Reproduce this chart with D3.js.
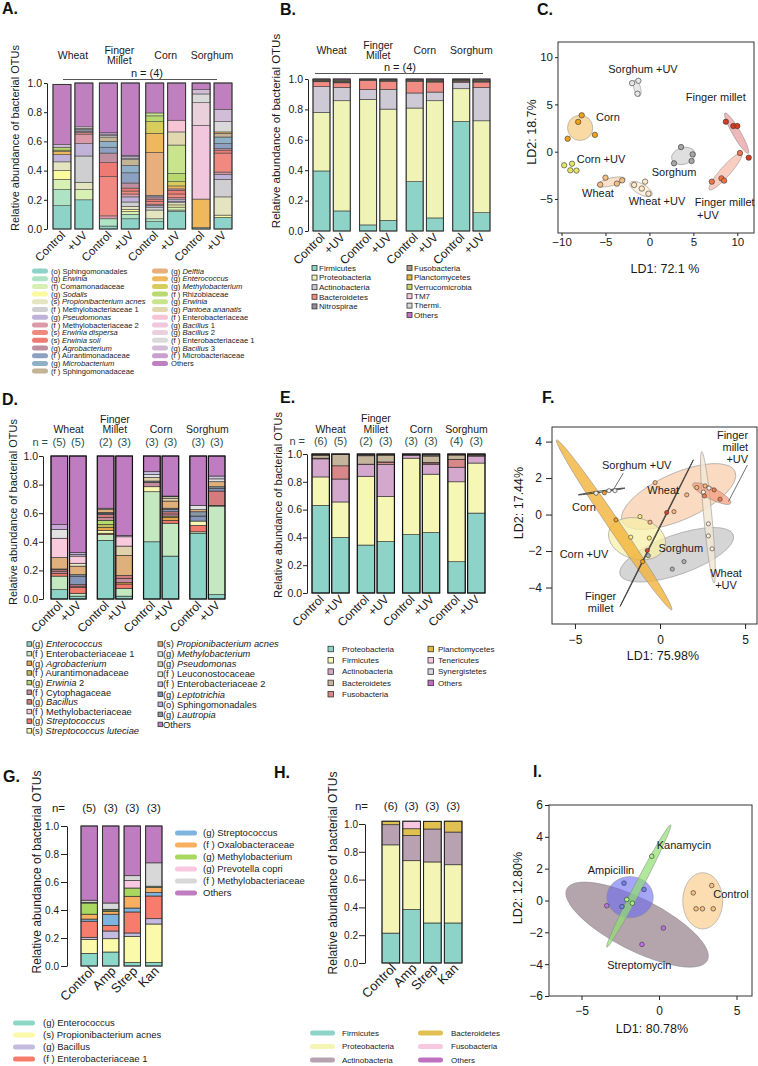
<!DOCTYPE html>
<html><head><meta charset="utf-8">
<script src="https://cdn.jsdelivr.net/npm/d3@7"></script>
<style>body{margin:0;background:#fff}svg{display:block}</style>
</head><body><svg id="c" width="758" height="1066"></svg>
<script>
const FONT = '"Liberation Sans", Arial, Helvetica, sans-serif';

// ================= DATA =================
const plantGroups = ["Wheat", "Finger\nMillet", "Corn", "Sorghum"];
const uvConds = ["Control", "+UV"];
const abxGroups = ["Control", "Amp", "Strep", "Kan"];

// ---- Panel A (taxa, bottom-to-top in legend order) ----
const taxaA = ["(o) Sphingomonadales","(g) *Erwinia*","(f) Comamonadaceae","(g) *Sodalis*","(s) *Propionibacterium acnes*","(f ) Methylobacteriaceae 1","(g) *Pseudomonas*","(f ) Methylobacteriaceae 2","(s) *Erwinia dispersa*","(s) *Erwinia soli*","(g) *Agrobacterium*","(f ) Aurantimonadaceae","(g) *Microbacterium*","(f ) Sphingomonadaceae",
"(g) *Delftia*","(g) *Enterococcus*","(g) *Methylobacterium*","(f ) Rhizobiaceae","(g) *Erwinia*","(g) *Pantoea ananatis*","(f ) Enterobacteriaceae","(g) *Bacillus* 1","(g) *Bacillus* 2","(f ) Enterobacteriaceae 1","(g) *Bacillus* 3","(f ) Microbacteriaceae","Others"];
const colorsA = ["#8dd3c7","#aee3c4","#d9f0b4","#fafa9e","#e4e4c0","#cfcfd2","#bfb3d9","#dc9aa8","#f08a80","#ee7b73","#c08f9f","#8ea0c0","#8fb0c6","#c2b494","#e8ae7c","#f0b85c","#d8cc5c","#b8d870","#c8e48c","#e2d8b0","#f7c4d6","#f2c6dc","#ead0da","#d9d9d9","#d2bcd8","#c9a0d0","#c080c0"];
const barsA = [
 [.16,.11,.07,.06,.06,0,.05,0,0,0,0,0,0,0,0,.02,.01,.02,0,0,0,0,0,0,.02,0,.41],
 [.20,0,.07,0,.05,.18,.085,.065,.01,0,.01,.01,0,.01,0,0,0,0,0,0,0,0,0,.01,0,0,.30],
 [.02,.05,0,0,0,0,0,.02,.27,.095,.065,.04,.04,.03,0,0,0,0,0,0,0,0,0,.01,.01,.01,.34],
 [.07,.03,.02,.015,.02,.03,.035,.02,.02,.02,.035,.07,.05,.04,0,0,0,0,0,0,0,0,0,.01,.01,.01,.495],
 [.05,.02,0,0,.06,.02,.01,.01,.02,.015,.015,.01,0,0,.295,.13,.08,.04,.02,0,0,0,0,0,0,0,.205],
 [.12,.01,.02,.015,.015,.01,.015,.01,.025,.025,.01,0,0,0,0,.02,.03,.055,.195,.09,.08,0,0,0,0,0,.255],
 [.01,0,0,0,0,0,0,0,0,0,0,0,0,0,0,.195,0,0,0,0,0,.505,.155,.06,.03,0,.045],
 [.08,0,0,.015,.125,.12,.035,.015,.13,.02,.01,.035,.045,.025,0,.01,0,0,0,0,0,0,0,.07,.085,0,.18]
];

// ---- Panel B (phyla) ----
const phylaB = ["Firmicutes","Proteobacteria","Actinobacteria","Bacteroidetes","Nitrospirae","Fusobacteria","Planctomycetes","Verrucomicrobia","TM7","Thermi.","Others"];
const colorsB = ["#8dd3c7","#eff3b5","#cdcad6","#f08c84","#9a8aa0","#a89888","#e8b838","#c8d870","#f8c8d8","#d8d8d8","#c070c0"];
const barsB = [
 [.395,.385,.17,.032,.005,.004,.003,.002,0,0,.004],
 [.132,.725,.088,.03,.005,.005,.005,.003,0,0,.007],
 [.04,.826,.065,.06,.003,.002,.001,.001,0,0,.002],
 [.07,.732,.13,.053,.004,.003,.002,.001,0,0,.005],
 [.325,.484,.099,.077,.004,.004,.002,.001,0,0,.004],
 [.086,.771,.057,.066,.005,.004,.003,.002,0,0,.006],
 [.721,.215,.04,.009,.004,.003,.002,.001,0,0,.005],
 [.121,.604,.22,.035,.005,.004,.003,.002,0,0,.006]
];

// ---- Panel D ----
const taxaD = ["(g) *Enterococcus*","(f ) Enterobacteriaceae 1","(g) *Agrobacterium*","(f ) Aurantimonadaceae","(g) *Erwinia* 2","(f ) Cytophagaceae","(g) *Bacillus*","(f ) Methylobacteriaceae","(g) *Streptococcus*","(s) *Streptococcus luteciae*",
"(s) *Propionibacterium acnes*","(g) *Methylobacterium*","(g) *Pseudomonas*","(f ) Leuconostocaceae","(f ) Enterobacteriaceae 2","(g) *Leptotrichia*","(o) Sphingomonadales","(g) *Lautropia*","Others"];
const colorsD = ["#8dd3c7","#c4e8bf","#e8a448","#c4bc58","#b4dc68","#c48c9c","#d47c7c","#f8cadc","#f27a6a","#f8f8b2","#e0b07c","#e2e2e2","#e2d2ac","#ececcc","#cac4e2","#8494b8","#c8a8d8","#8898a4","#c07cc0"];
const stackOrderD = [0,1,8,9,2,3,4,5,6,15,17,10,12,13,7,11,14,16,18];
const barsD = [
 [.065,.095,0,0,0,.015,.01,.135,.02,0,.08,.06,0,0,0,0,.035,.005,.48],
 [.02,.02,0,0,0,.01,.01,.05,.04,0,.06,0,0,.02,.01,.06,.015,.01,.675],
 [.41,.04,.02,.02,.03,.02,.02,0,.01,.02,.02,0,.01,0,0,.01,0,.005,.365],
 [.02,.055,.01,0,0,.03,.02,.065,.03,0,.14,0,.065,0,.01,0,0,0,.555],
 [.40,.35,0,0,0,.03,0,0,0,.035,0,.02,.025,0,.02,0,0,.01,.11],
 [.30,.23,.02,.01,0,.015,.015,.005,.02,0,.05,0,.02,.01,0,.015,0,.01,.28],
 [.46,.01,0,0,0,0,0,0,.045,.03,.015,.03,0,0,0,.035,0,.03,.345],
 [.03,.62,0,0,0,.005,.10,0,0,0,.035,.02,0,0,.02,.02,0,.01,.14]
];
const nD = ["(5)","(5)","(2)","(3)","(3)","(3)","(3)","(3)"];

// ---- Panel E ----
const phylaE = ["Proteobacteria","Firmicutes","Actinobacteria","Bacteroidetes","Fusobacteria","Planctomycetes","Tenericutes","Synergistetes","Others"];
const colorsE = ["#8dd3c7","#f7f7b5","#d4a8cc","#c4b49c","#d88888","#e0b840","#f8c8dc","#d8d4e0","#c070c0"];
const stackOrderE = [0,1,2,4,6,3,5,7,8];
const barsE = [
 [.63,.205,.13,.02,.005,.003,0,.002,.005],
 [.40,.255,.165,.08,.095,.002,0,.001,.002],
 [.345,.495,.085,.06,.002,.005,0,.003,.005],
 [.37,.325,.23,.045,.015,.005,.003,.002,.005],
 [.42,.55,.02,.004,.001,.002,0,.001,.002],
 [.435,.42,.07,.045,.01,.005,.005,.005,.005],
 [.225,.575,.105,.03,.055,.003,.002,.002,.003],
 [.575,.36,.05,.004,.002,.003,.001,.002,.003]
];
const nE = ["(6)","(5)","(2)","(3)","(3)","(3)","(4)","(3)"];

// ---- Panel G ----
const taxaG = ["(g) Enterococcus","(s) Propionibacterium acnes","(g) Bacillus","(f ) Enterobacteriaceae 1","(g) Streptococcus","(f ) Oxalobacteraceae","(g) Methylobacterium","(g) Prevotella copri","(f ) Methylobacteriaceae","Others"];
const colorsG = ["#8cd8c8","#fafaaa","#c4bce0","#f87c6c","#80b4e0","#f8b060","#a8d860","#f8c8e0","#d8d8d8","#c07cc0"];
const barsG = [
 [.09,.10,.015,.115,.015,.035,.08,.005,.015,.53],
 [.10,.095,.055,.04,.08,.02,.01,.005,.045,.55],
 [.025,.187,.024,.15,.028,.084,.059,.053,.035,.355],
 [.025,.275,.038,.162,.024,.036,.01,0,.167,.263]
];
const nG = ["(5)","(3)","(3)","(3)"];

// ---- Panel H ----
const phylaH = ["Firmicutes","Proteobacteria","Actinobacteria","Bacteroidetes","Fusobacteria","Others"];
const colorsH = ["#8dd3c7","#f4f4b4","#b8a2b2","#e0c050","#f8c8e0","#c070c0"];
const barsH = [
 [.215,.635,.145,.025,0,0],
 [.384,.352,.182,.048,.054,0],
 [.288,.439,.237,.055,0,0],
 [.288,.419,.235,.078,0,0]
];
const nH = ["(6)","(3)","(3)","(3)"];

// ---- Panel C (LDA) ----
const cGroups = ["Corn","Corn +UV","Wheat","Wheat +UV","Sorghum +UV","Sorghum","Finger millet","Finger millet +UV"];
const cPoints = [
 [[-7.7,3.85],[-8.1,3.15],[-9.3,1.37],[-6.2,1.78]],
 [[-9.7,-1.44],[-8.8,-1.27],[-9.0,-1.97],[-8.3,-2.0]],
 [[-5.0,-2.75],[-5.6,-3.49],[-3.7,-3.38],[-3.1,-3.03]],
 [[-1.74,-3.52],[-0.49,-3.17],[-0.87,-3.9],[-0.11,-4.44]],
 [[-1.97,7.25],[-1.25,7.5],[-1.36,6.13]],
 [[3.6,0.49],[4.92,-0.28],[2.8,-1.23],[4.8,-0.99]],
 [[8.7,3.17],[9.55,2.71],[10.0,2.71],[11.3,-0.63]],
 [[7.1,-3.17],[8.2,-2.82],[8.5,-3.06],[10.3,-0.14]]
];
const cEllipses = [
 [-9.32,2.52,-6.44,2.52,1.44], null,
 [-5.95,-3.55,-2.75,-2.85,0.45], [-2.2,-3.3,0.3,-4.6,0.6],
 [-1.63,7.59,-1.14,5.84,0.38], [2.54,-0.8,5.19,-0.1,0.95],
 [8.6,4.09,11.25,-0.17,0.45], [6.82,-4.02,10.49,-0.17,0.57]
];
const cEllFill = ["#f8d495",null,"#fbd9bd","#fdf0de","#e6e6e6","#dcdcdc","#e79a9a","#f6b9a6"];
const cEllOp = [.85,0,.8,.9,.9,.9,.7,.7];
const cPtFill = ["#f0a21a","#e4e46a","#f6bf82","#fde9c8","#e6e6e6","#a6a6a6","#d63b22","#ef7446"];
const cLabels = [
 ["Sorghum +UV",-0.73,8.3,"middle"],["Finger millet",7.55,5.36,"middle"],["Corn",-6.07,3.24,"start"],
 ["Corn +UV",-8.27,-1.2,"start"],["Wheat",-5.85,-4.79,"middle"],["Wheat +UV",0.86,-5.64,"middle"],
 ["Sorghum",2.8,-2.57,"middle"],["Finger millet",8.57,-5.74,"middle"],["+UV",5.42,-7.17,"start"]
];

// ---- Panel F (LDA) ----
const fGroups = ["Wheat","Sorghum","Corn +UV","Corn","Wheat +UV","Finger millet +UV","Sorghum +UV","Finger millet"];
const fPoints = [
 [[-0.29,1.75],[-0.59,-0.42],[0.82,0.16],[1.57,1.08],[2.16,1.48],[2.65,1.57]],
 [[-0.69,-2.25],[0.72,-2.99],[1.41,-2.58]],
 [[-1.18,-0.11],[-1.72,-1.24],[-0.63,-1.29]],
 [[-3.27,1.19],[-2.59,-0.29],[-1.02,-2.58]],
 [[2.88,1.45],[2.55,1.23],[2.84,-0.51],[2.84,-1.17],[3.06,-1.88]],
 [[2.61,1.02],[3.18,1.35],[3.53,0.84]],
 [[-3.76,1.17],[-3.0,1.31],[-2.65,1.31]],
 [[0.39,0.11],[-0.75,-1.97]]
];
const fEllipses = [
 [-2.22,-0.38,4.41,2.36,1.38], [-2.35,-3.30,4.31,-1.11,1.16], [-3.0,-0.9,0.3,-1.75,1.2],
 [-6.08,4.09,0.69,-5.22,0.35], [2.45,3.45,3.18,-3.76,0.24], [1.92,1.68,4.16,0.62,0.33],
 [-4.8,1.08,-2.06,1.45,0.04], [-2.35,-5.04,1.96,3.0,0.02]
];
const fEllFill = ["#f7c6a0","#b9b9b9","#f7efa8","#f2b33a","#f3e7d4","#f29a7a","none","none"];
const fEllOp = [.65,.6,.75,.8,.85,.7,0,0];
const fPtFill = ["#f8b880","#b0b0b0","#f8f080","#f0a020","#fdf0e0","#f08050","#f0f0f0","#d84028"];
const fLabels = [
 ["Sorghum +UV",-1.37,2.5,"middle"],["Wheat",0.19,1.13,"middle"],["Corn",-4.47,0.2,"middle"],
 ["Corn +UV",-4.47,-2.37,"middle"],["Sorghum",1.22,-2.04,"middle"],
 ["Finger",5.18,4.15,"end"],["millet",5.18,3.49,"end"],["+UV",5.18,2.83,"end"],
 ["Wheat",3.88,-3.41,"middle"],["+UV",3.88,-4.07,"middle"],
 ["Finger",-3.49,-4.67,"middle"],["millet",-3.49,-5.33,"middle"]
];
const fLeaders = [[-2.16,2.27,-2.75,1.35],[5.14,2.72,4.02,0.71]];

// ---- Panel I (LDA) ----
const iGroups = ["Streptomycin","Ampicillin","Kanamycin","Control"];
const iPoints = [
 [[-3.37,-0.33],[0.28,-1.73],[-1.1,-2.76]],
 [[-2.26,1.09],[-0.97,0.69],[-2.39,-0.38]],
 [[-0.47,2.78],[-2.08,0.06],[-1.72,-0.17]],
 [[2.21,0.48],[3.4,0.94],[2.39,-0.52],[2.8,-0.52],[3.5,-0.52]]
];
const iEllipses = [
 [-5.95,0.73,3.12,-3.76,1.67], [-3.37,0.21,-0.37,0.21,1.33],
 [-3.37,-2.93,0.75,4.75,0.26], [2.82,1.75,2.82,-1.79,1.29]
];
const iEllFill = ["#7e6270","#6a6af0","#8ee070","#fcd8a8"];
const iEllOp = [.58,.6,.7,.9];
const iPtFill = ["#c070e8","#7080f0","#a8f080","#f8c080"];
const iLabels = [
 ["Kanamycin",-0.15,3.24,"start"],["Ampicillin",-3.1,1.67,"middle"],
 ["Control",3.5,0.14,"start"],["Streptomycin",-1.27,-4.28,"middle"]
];

// ================= HELPERS =================
const svg = d3.select("#c");
svg.append("rect").attr("width",758).attr("height",1066).attr("fill","#fff");

function rich(sel, str) {
  if (str.indexOf("*") < 0) { sel.text(str); return; }
  str.split("*").forEach((p, i) => {
    if (p) sel.append("tspan").style("font-style", i % 2 ? "italic" : "normal").text(p);
  });
}
function txt(x, y, s, o = {}) {
  const t = svg.append("text").attr("x", x).attr("y", y)
    .attr("font-family", FONT).attr("font-size", o.fs || 11)
    .attr("fill", o.fill || "#1a1a1a").attr("text-anchor", o.anchor || "start");
  if (o.bold) t.attr("font-weight", "bold");
  if (o.rot !== undefined) t.attr("transform", `rotate(${o.rot},${x},${y})`);
  rich(t, s);
  return t;
}
function styleAxis(ax, fs) {
  ax.attr("font-family", FONT).attr("font-size", fs);
  ax.selectAll("text").attr("fill", "#1a1a1a");
  ax.selectAll("line,path").attr("stroke", "#222");
}

function stackPanel(o) {
  const g = svg.append("g");
  const y = d3.scaleLinear().domain([0, 1]).range([o.yBot, o.yTop]);
  let xs;
  if (o.groups) {
    const outer = d3.scaleBand().domain(o.groups).range(o.xRange).paddingInner(o.padOuter);
    const inner = d3.scaleBand().domain(o.conds).range([0, outer.bandwidth()]).paddingInner(o.padInner);
    xs = o.bars.map((b, i) => ({ x: outer(o.groups[Math.floor(i / 2)]) + inner(o.conds[i % 2]), w: inner.bandwidth(), label: o.conds[i % 2] }));
    o.groups.forEach(gr => {
      const cx = outer(gr) + outer.bandwidth() / 2;
      const lines = gr.split("\n");
      if (lines.length === 2) {
        txt(cx, o.glY - o.glGap, lines[0], { fs: o.glFs, anchor: "middle" });
        txt(cx, o.glY, lines[1], { fs: o.glFs, anchor: "middle" });
      } else txt(cx, o.glY + o.glSingle, gr, { fs: o.glFs, anchor: "middle" });
    });
  } else {
    const band = d3.scaleBand().domain(o.cats).range(o.xRange).paddingInner(o.padInner);
    xs = o.cats.map(c => ({ x: band(c), w: band.bandwidth(), label: c }));
  }
  o.bars.forEach((vals, i) => {
    let cum = 0;
    const order = o.order || vals.map((_, k) => k);
    order.forEach(k => {
      const v = vals[k];
      if (v <= 0) return;
      g.append("rect").attr("x", xs[i].x).attr("width", xs[i].w)
        .attr("y", y(cum + v)).attr("height", y(cum) - y(cum + v))
        .attr("fill", o.colors[k]).attr("stroke", o.segStroke).attr("stroke-width", o.segW);
      cum += v;
    });
    g.append("rect").attr("x", xs[i].x).attr("width", xs[i].w)
      .attr("y", y(cum)).attr("height", y(0) - y(cum))
      .attr("fill", "none").attr("stroke", o.outline).attr("stroke-width", o.outlineW);
    const cx = xs[i].x + xs[i].w / 2;
    txt(cx + o.xlDx, o.yBot + o.xlDy, xs[i].label, { fs: o.xlFs, anchor: "end", rot: -45 });
    if (o.nLabels) txt(cx, o.nY, o.nLabels[i], { fs: o.nFs, anchor: "middle", fill: o.nFill });
  });
  const ax = g.append("g").attr("transform", `translate(${o.axisX},0)`)
    .call(d3.axisLeft(y).tickValues([0, .2, .4, .6, .8, 1]).tickFormat(d3.format(".1f"))
      .tickSize(o.ts).tickPadding(o.tp).tickSizeOuter(0));
  styleAxis(ax, o.tickFs);
  return { y, xs };
}

function legend(o) {
  o.items.forEach((s, i) => {
    const cy = o.y0 + i * o.dy;
    const r = svg.append("rect").attr("x", o.x).attr("y", cy - o.sh / 2)
      .attr("width", o.sw).attr("height", o.sh).attr("fill", o.colors[i]);
    if (o.kind === "pill") r.attr("rx", o.sh / 2).attr("ry", o.sh / 2);
    else r.attr("stroke", "#333").attr("stroke-width", 0.8);
    txt(o.tx, cy + o.fs * 0.35, s, { fs: o.fs, fill: "#222" });
  });
}

function drawEllipse(g, x, y, e, fill, op) {
  const [x1, y1, x2, y2, w] = e;
  const p1 = [x(x1), y(y1)], p2 = [x(x2), y(y2)];
  const cx = (p1[0] + p2[0]) / 2, cy = (p1[1] + p2[1]) / 2;
  const rx = Math.hypot(p2[0] - p1[0], p2[1] - p1[1]) / 2;
  const ry = Math.max(Math.abs(x(w) - x(0)), 0.3);
  const ang = Math.atan2(p2[1] - p1[1], p2[0] - p1[0]) * 180 / Math.PI;
  const hollow = fill === "none" || !fill;
  g.append("ellipse").attr("cx", cx).attr("cy", cy).attr("rx", rx).attr("ry", ry)
    .attr("transform", `rotate(${ang},${cx},${cy})`)
    .attr("fill", hollow ? "none" : fill).attr("fill-opacity", op)
    .attr("stroke", hollow ? "#333" : "#8a8a8a")
    .attr("stroke-width", hollow ? 0.8 : 0.5);
}

function scatterPanel(o) {
  const x = d3.scaleLinear().domain(o.xDomain).range([o.left, o.right]);
  const y = d3.scaleLinear().domain(o.yDomain).range([o.bottom, o.top]);
  const id = "clip" + o.name;
  svg.append("clipPath").attr("id", id).append("rect")
    .attr("x", o.left).attr("y", o.top).attr("width", o.right - o.left).attr("height", o.bottom - o.top);
  const g = svg.append("g").attr("clip-path", `url(#${id})`);
  o.ellipses.forEach((e, i) => { if (e) drawEllipse(g, x, y, e, o.ellFill[i], o.ellOp[i]); });
  (o.leaders || []).forEach(l => g.append("line").attr("x1", x(l[0])).attr("y1", y(l[1]))
    .attr("x2", x(l[2])).attr("y2", y(l[3])).attr("stroke", "#333").attr("stroke-width", 0.7));
  o.points.forEach((pts, i) => pts.forEach(p => g.append("circle")
    .attr("cx", x(p[0])).attr("cy", y(p[1])).attr("r", o.r)
    .attr("fill", o.ptFill[i]).attr("stroke", "#333").attr("stroke-width", 0.6)));
  o.labels.forEach(l => txt(x(l[1]), y(l[2]), l[0], { fs: o.labFs, anchor: l[3] }));
  svg.append("rect").attr("x", o.left).attr("y", o.top).attr("width", o.right - o.left)
    .attr("height", o.bottom - o.top).attr("fill", "none").attr("stroke", "#333").attr("stroke-width", 1);
  const axB = svg.append("g").attr("transform", `translate(0,${o.bottom})`)
    .call(d3.axisBottom(x).tickValues(o.xTicks).tickSize(o.xts).tickPadding(o.xtp).tickSizeOuter(0));
  axB.select(".domain").remove();
  styleAxis(axB, o.tickFs);
  const axL = svg.append("g").attr("transform", `translate(${o.left},0)`)
    .call(d3.axisLeft(y).tickValues(o.yTicks).tickSize(o.yts).tickPadding(o.ytp).tickSizeOuter(0));
  axL.select(".domain").remove();
  styleAxis(axL, o.tickFs);
  txt(o.xlab[1], o.xlab[2], o.xlab[0], { fs: o.axFs, anchor: "middle" });
  txt(o.ylab[1], o.ylab[2], o.ylab[0], { fs: o.axFs, anchor: "middle", rot: -90 });
}

// ================= PANEL LETTERS =================
[["A.",2,14],["B.",280,15],["C.",537,15],["D.",2,405],["E.",280,403],["F.",542,403],["G.",3,782],["H.",274,778],["I.",533,777]]
  .forEach(d => txt(d[1], d[2], d[0], { fs: 16, bold: true, fill: "#111" }));

const YLAB = "Relative abundance of bacterial OTUs";

// ================= PANEL A =================
stackPanel({ bars: barsA, colors: colorsA, groups: plantGroups, conds: uvConds,
  xRange: [53, 232], padOuter: 0.14, padInner: 0.18, yTop: 83, yBot: 229, axisX: 47,
  ts: 3, tp: 2, tickFs: 10.5, xlFs: 11.5, xlDx: 4, xlDy: 7,
  segStroke: "#4a4a4a", segW: 0.6, outline: "#333", outlineW: 1,
  glY: 64, glGap: 10.5, glSingle: -5, glFs: 10.5 });
txt(147, 77, "n = (4)", { fs: 11, anchor: "middle" });
svg.append("line").attr("x1", 63).attr("x2", 217).attr("y1", 79.5).attr("y2", 79.5).attr("stroke", "#555").attr("stroke-width", 1);
txt(19, 138, YLAB, { fs: 11, anchor: "middle", rot: -90 });
legend({ items: taxaA.slice(0, 14), colors: colorsA.slice(0, 14), x: 32, tx: 51, y0: 271, dy: 7.7, sw: 16, sh: 5, kind: "pill", fs: 7.6 });
legend({ items: taxaA.slice(14), colors: colorsA.slice(14), x: 152, tx: 171, y0: 271, dy: 7.7, sw: 16, sh: 5, kind: "pill", fs: 7.6 });

// ================= PANEL B =================
stackPanel({ bars: barsB, colors: colorsB, groups: plantGroups, conds: uvConds,
  xRange: [313, 490], padOuter: 0.2, padInner: 0.16, yTop: 79, yBot: 231, axisX: 308,
  ts: 3, tp: 2, tickFs: 10.5, xlFs: 12, xlDx: 4, xlDy: 7,
  segStroke: "#3a3a3a", segW: 0.6, outline: "#333", outlineW: 1,
  glY: 59, glGap: 10.5, glSingle: -5, glFs: 10.5 });
txt(400, 71, "n = (4)", { fs: 11, anchor: "middle" });
svg.append("line").attr("x1", 315).attr("x2", 483).attr("y1", 73.5).attr("y2", 73.5).attr("stroke", "#555").attr("stroke-width", 1);
txt(280, 131, YLAB, { fs: 11.5, anchor: "middle", rot: -90 });
legend({ items: phylaB.slice(0, 5), colors: colorsB.slice(0, 5), x: 312, tx: 319, y0: 268, dy: 9.6, sw: 5, sh: 5, kind: "sq", fs: 8 });
legend({ items: phylaB.slice(5), colors: colorsB.slice(5), x: 407, tx: 414, y0: 268, dy: 9.4, sw: 5, sh: 5, kind: "sq", fs: 8 });

// ================= PANEL C =================
scatterPanel({ name: "C", left: 558, right: 754, top: 42, bottom: 233,
  xDomain: [-10.4, 11.9], yDomain: [-8.6, 11.6], xTicks: [-10, -5, 0, 5, 10], yTicks: [-5, 0, 5, 10],
  xts: 3, xtp: 2, yts: 3, ytp: 2, tickFs: 11.5,
  ellipses: cEllipses, ellFill: cEllFill, ellOp: cEllOp, points: cPoints, ptFill: cPtFill, r: 2.7,
  labels: cLabels, labFs: 11, axFs: 12.5,
  xlab: ["LD1: 72.1 %", 665, 273], ylab: ["LD2: 18.7%", 536, 132] });

// ================= PANEL D =================
stackPanel({ bars: barsD, colors: colorsD, order: stackOrderD, groups: plantGroups, conds: uvConds,
  xRange: [51, 225], padOuter: 0.24, padInner: 0.1, yTop: 456, yBot: 599, axisX: 43,
  ts: 4, tp: 1, tickFs: 10.5, xlFs: 12, xlDx: 4, xlDy: 7,
  segStroke: "#2a2a2a", segW: 0.6, outline: "#111", outlineW: 1.2,
  glY: 433, glGap: 10.5, glSingle: 0, glFs: 10.5,
  nLabels: nD, nY: 445.5, nFs: 11, nFill: "#2f4f4a" });
txt(48, 445.5, "n =", { fs: 11, anchor: "end", fill: "#2f4f4a" });
txt(17, 512, YLAB, { fs: 11, anchor: "middle", rot: -90 });
legend({ items: taxaD.slice(0, 10), colors: colorsD.slice(0, 10), x: 27, tx: 32, y0: 644, dy: 9.65, sw: 4.5, sh: 4.5, kind: "sq", fs: 9.3 });
legend({ items: taxaD.slice(10), colors: colorsD.slice(10), x: 158, tx: 163, y0: 644, dy: 10.05, sw: 4.5, sh: 4.5, kind: "sq", fs: 9.3 });

// ================= PANEL E =================
stackPanel({ bars: barsE, colors: colorsE, order: stackOrderE, groups: plantGroups, conds: uvConds,
  xRange: [312, 485], padOuter: 0.18, padInner: 0.12, yTop: 454, yBot: 593, axisX: 307,
  ts: 4, tp: 1, tickFs: 10.5, xlFs: 12, xlDx: 4, xlDy: 7,
  segStroke: "#2a2a2a", segW: 0.6, outline: "#111", outlineW: 1.2,
  glY: 432.5, glGap: 10.5, glSingle: 0, glFs: 10.5,
  nLabels: nE, nY: 444.5, nFs: 11, nFill: "#2f4f4a" });
txt(305, 444.5, "n =", { fs: 11, anchor: "end", fill: "#2f4f4a" });
txt(282, 505, YLAB, { fs: 11, anchor: "middle", rot: -90 });
legend({ items: phylaE.slice(0, 5), colors: colorsE.slice(0, 5), x: 328, tx: 342, y0: 649, dy: 11.3, sw: 5.5, sh: 5.5, kind: "sq", fs: 8 });
legend({ items: phylaE.slice(5), colors: colorsE.slice(5), x: 428, tx: 438, y0: 649, dy: 11.3, sw: 5.5, sh: 5.5, kind: "sq", fs: 8 });

// ================= PANEL F =================
scatterPanel({ name: "F", left: 552, right: 757, top: 427, bottom: 624,
  xDomain: [-6.35, 5.7], yDomain: [-6.0, 4.8], xTicks: [-5, 0, 5], yTicks: [4, 2, 0, -2, -4],
  xts: 5, xtp: 6, yts: 6, ytp: 4, tickFs: 12,
  ellipses: fEllipses, ellFill: fEllFill, ellOp: fEllOp, points: fPoints, ptFill: fPtFill, r: 2.1,
  leaders: fLeaders, labels: fLabels, labFs: 11, axFs: 12.5,
  xlab: ["LD1: 75.98%", 663, 660], ylab: ["LD2: 17.44%", 523, 503] });

// ================= PANEL G =================
stackPanel({ bars: barsG, colors: colorsG, cats: abxGroups,
  xRange: [81, 162], padInner: 0.24, yTop: 826, yBot: 966, axisX: 67,
  ts: 6, tp: 2, tickFs: 10, xlFs: 13, xlDx: 6, xlDy: 6,
  segStroke: "#333", segW: 0.7, outline: "#333", outlineW: 1,
  nLabels: nG, nY: 812, nFs: 11.5, nFill: "#222" });
txt(65, 812, "n=", { fs: 11.5, anchor: "end" });
txt(41, 872, YLAB, { fs: 12, anchor: "middle", rot: -90 });
legend({ items: taxaG.slice(4), colors: colorsG.slice(4), x: 175, tx: 203, y0: 833, dy: 12, sw: 22, sh: 5, kind: "pill", fs: 9.5 });
legend({ items: taxaG.slice(0, 4), colors: colorsG.slice(0, 4), x: 13, tx: 43, y0: 1023, dy: 12, sw: 22, sh: 5, kind: "pill", fs: 9.5 });

// ================= PANEL H =================
stackPanel({ bars: barsH, colors: colorsH, cats: abxGroups,
  xRange: [382, 462], padInner: 0.15, yTop: 824, yBot: 963, axisX: 365,
  ts: 6, tp: 1, tickFs: 10, xlFs: 13, xlDx: 6, xlDy: 6,
  segStroke: "#333", segW: 0.7, outline: "#222", outlineW: 1,
  nLabels: nH, nY: 810, nFs: 11.5, nFill: "#222" });
txt(368, 810, "n=", { fs: 11.5, anchor: "end" });
txt(337, 873, YLAB, { fs: 12, anchor: "middle", rot: -90 });
legend({ items: phylaH.slice(0, 3), colors: colorsH.slice(0, 3), x: 310, tx: 342, y0: 1033, dy: 13.5, sw: 25, sh: 5, kind: "pill", fs: 8 });
legend({ items: phylaH.slice(3), colors: colorsH.slice(3), x: 418, tx: 451, y0: 1033, dy: 13.5, sw: 25, sh: 5, kind: "pill", fs: 8 });

// ================= PANEL I =================
scatterPanel({ name: "I", left: 549, right: 752, top: 805, bottom: 996,
  xDomain: [-7.1, 6.0], yDomain: [-6, 6], xTicks: [-5, 0, 5], yTicks: [6, 4, 2, 0, -2, -4, -6],
  xts: 4, xtp: 6, yts: 4, ytp: 2, tickFs: 12,
  ellipses: iEllipses, ellFill: iEllFill, ellOp: iEllOp, points: iPoints, ptFill: iPtFill, r: 2.3,
  labels: iLabels, labFs: 11, axFs: 12.5,
  xlab: ["LD1: 80.78%", 652, 1033], ylab: ["LD2: 12.80%", 522, 888] });
</script></body></html>
